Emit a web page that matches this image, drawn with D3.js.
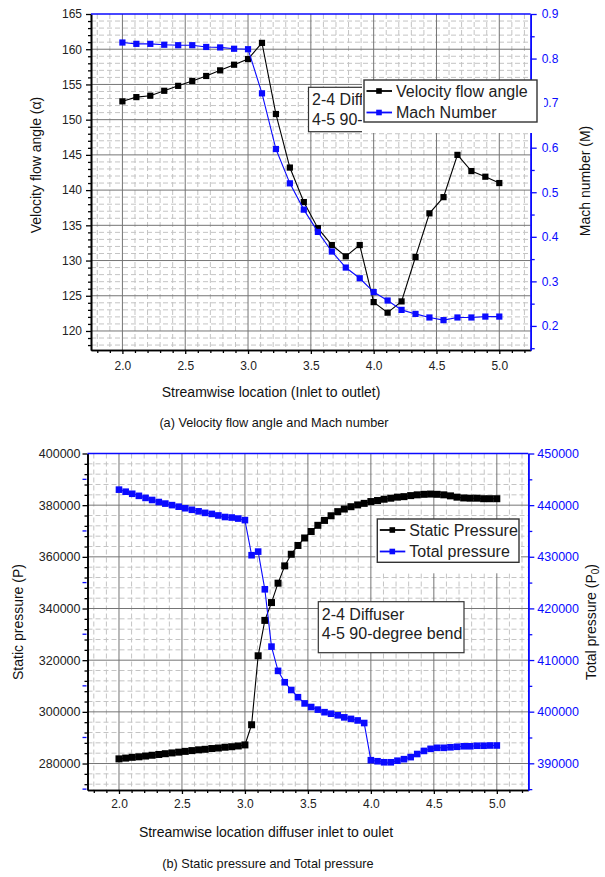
<!DOCTYPE html>
<html>
<head>
<meta charset="utf-8">
<script src="https://cdn.jsdelivr.net/npm/d3@7"></script>
<style>
  body { margin: 0; background: #fff; }
  svg { font-family: "Liberation Sans", Arial, sans-serif; }
</style>
</head>
<body>
<svg id="chart" width="605" height="877"></svg>
<script>
// ---------- data: panel (a) ----------
const xA = [2.0, 2.111, 2.222, 2.333, 2.444, 2.556, 2.667, 2.778, 2.889, 3.0,
  3.111, 3.222, 3.333, 3.444, 3.556, 3.667, 3.778, 3.889, 4.0,
  4.111, 4.222, 4.333, 4.444, 4.556, 4.667, 4.778, 4.889, 5.0];
const flowAngle = [152.6, 153.2, 153.4, 154.1, 154.8, 155.5, 156.2, 157.0, 157.8, 158.6,
  160.9, 150.8, 143.2, 138.3, 134.6, 132.2, 130.6, 132.2, 124.1,
  122.6, 124.2, 130.5, 136.7, 139.0, 145.0, 142.7, 141.9, 141.0];
const machNumber = [0.836, 0.833, 0.833, 0.831, 0.830, 0.830, 0.826, 0.825, 0.822, 0.821,
  0.722, 0.597, 0.520, 0.461, 0.411, 0.367, 0.331, 0.307, 0.276,
  0.257, 0.236, 0.227, 0.219, 0.213, 0.219, 0.219, 0.221, 0.221];

// ---------- data: panel (b) ----------
const xB = [2.000, 2.053, 2.105, 2.158, 2.211, 2.263, 2.316, 2.368, 2.421, 2.474,
  2.526, 2.579, 2.632, 2.684, 2.737, 2.789, 2.842, 2.895, 2.947, 3.000,
  3.053, 3.105, 3.158, 3.211, 3.263, 3.316, 3.368, 3.421, 3.474, 3.526,
  3.579, 3.632, 3.684, 3.737, 3.789, 3.842, 3.895, 3.947, 4.000,
  4.053, 4.105, 4.158, 4.211, 4.263, 4.316, 4.368, 4.421, 4.474, 4.526,
  4.579, 4.632, 4.684, 4.737, 4.789, 4.842, 4.895, 4.947, 5.000];
const staticPressure = [281800, 282100, 282400, 282600, 282900, 283200, 283500, 283800, 284100, 284400,
  284700, 285000, 285300, 285500, 285800, 286000, 286300, 286500, 286800, 287200,
  295000, 321700, 335400, 342300, 349800, 356500, 361000, 364400, 367300, 369800,
  372200, 374100, 375900, 377500, 378500, 379400, 380100, 380700, 381400,
  381800, 382300, 382700, 383100, 383300, 383700, 384000, 384200, 384300, 384200,
  384000, 383600, 383100, 382800, 382700, 382700, 382500, 382500, 382500];
const totalPressure = [443000, 442600, 442200, 441800, 441400, 441000, 440600, 440300, 440000, 439700,
  439400, 439100, 438800, 438500, 438300, 438000, 437700, 437600, 437400, 437100,
  430300, 431000, 423700, 412600, 407900, 405700, 404200, 402800, 401600, 400900,
  400400, 399900, 399600, 399300, 398900, 398600, 398300, 397800, 390600,
  390400, 390200, 390200, 390500, 390800, 391200, 391800, 392400, 392800, 393000,
  393000, 393100, 393200, 393300, 393300, 393400, 393400, 393450, 393450];

// ---------- ticks ----------
const xTicks = [2.0, 2.5, 3.0, 3.5, 4.0, 4.5, 5.0];
const angleTicks = [120, 125, 130, 135, 140, 145, 150, 155, 160, 165];
const machTicks = [0.2, 0.3, 0.4, 0.5, 0.6, 0.7, 0.8, 0.9];
const staticTicks = [280000, 300000, 320000, 340000, 360000, 380000, 400000];
const totalTicks = [390000, 400000, 410000, 420000, 430000, 440000, 450000];

const BLUE = '#0a0aff';
const svg = d3.select('#chart');
const defs = svg.append('defs');

function styleAxis(a, color, fs) {
  a.attr('font-family', null).attr('font-size', fs);
  a.select('.domain').attr('stroke', color).attr('stroke-width', 1.6);
  a.selectAll('.tick line').attr('stroke', color).attr('stroke-width', 1.3);
  a.selectAll('.tick text').attr('fill', color === BLUE ? BLUE : '#222');
  return a;
}

function drawPanel(c) {
  const x = d3.scaleLinear().domain([1.75, 5.25]).range([c.left, c.right]);
  const yL = d3.scaleLinear().domain(c.yLDomain).range([c.bottom, c.top]);
  const yR = d3.scaleLinear().domain(c.yRDomain).range([c.bottom, c.top]);
  const g = svg.append('g');

  const xMinor = d3.range(1.8, 5.25, 0.1).filter(v => !xTicks.some(t => Math.abs(t - v) < 1e-6));
  const yMinor = d3.range(c.yLMinorStart, c.yLDomain[1], c.yLMinorStep)
    .filter(v => !c.yLTicks.some(t => Math.abs(t - v) < 1e-6) && yL(v) > c.top && yL(v) < c.bottom);

  // minor dashed grid
  g.append('g').selectAll('line').data(xMinor).join('line')
    .attr('x1', d => x(d)).attr('x2', d => x(d)).attr('y1', c.top).attr('y2', c.bottom)
    .attr('stroke', '#c4c4c4').attr('stroke-dasharray', '5,3');
  g.append('g').selectAll('line').data(yMinor).join('line')
    .attr('y1', d => yL(d)).attr('y2', d => yL(d)).attr('x1', c.left).attr('x2', c.right)
    .attr('stroke', '#c4c4c4').attr('stroke-dasharray', '5,3');

  // major grid
  g.append('g').selectAll('line').data(xTicks).join('line')
    .attr('x1', d => x(d)).attr('x2', d => x(d)).attr('y1', c.top).attr('y2', c.bottom)
    .attr('stroke', '#757575').attr('stroke-width', 1);
  g.append('g').selectAll('line').data(c.yLTicks.filter(v => yL(v) > c.top + 1)).join('line')
    .attr('y1', d => yL(d)).attr('y2', d => yL(d)).attr('x1', c.left).attr('x2', c.right)
    .attr('stroke', '#757575').attr('stroke-width', 1);

  // series
  c.series.forEach(s => {
    const y = s.axis === 'L' ? yL : yR;
    const pts = c.xs.map((xv, i) => [x(xv), y(s.values[i])]);
    g.append('path').attr('d', d3.line()(pts))
      .attr('fill', 'none').attr('stroke', s.color).attr('stroke-width', 1.1);
    g.append('g').selectAll('rect').data(pts).join('rect')
      .attr('x', d => d[0] - s.size / 2).attr('y', d => d[1] - s.size / 2)
      .attr('width', s.size).attr('height', s.size).attr('fill', s.color);
  });

  // axes
  styleAxis(g.append('g').attr('transform', `translate(0,${c.bottom})`)
    .call(d3.axisBottom(x).tickValues(xMinor).tickSize(3).tickFormat('').tickSizeOuter(0)), '#000', 12);
  styleAxis(g.append('g').attr('transform', `translate(0,${c.bottom})`)
    .call(d3.axisBottom(x).tickValues(xTicks).tickSize(4).tickPadding(c.xPad).tickFormat(d3.format('.1f')).tickSizeOuter(0)), '#000', 12);

  styleAxis(g.append('g').attr('transform', `translate(${c.left},0)`)
    .call(d3.axisLeft(yL).tickValues(yMinor).tickSize(3).tickFormat('').tickSizeOuter(0)), '#000', 12);
  styleAxis(g.append('g').attr('transform', `translate(${c.left},0)`)
    .call(d3.axisLeft(yL).tickValues(c.yLTicks).tickSize(5).tickPadding(c.lPad).tickFormat(d3.format('d')).tickSizeOuter(0)), '#000', c.tickFs);

  const yRMinor = c.yRTicks.slice(0, -1).map((v, i) => (v + c.yRTicks[i + 1]) / 2)
    .concat(c.yRExtraMinor);
  if (c.leftBlueTicks) {
    g.append('g').selectAll('line').data(yRMinor.filter(v => yR(v) < c.bottom)).join('line')
      .attr('x1', c.left - 5).attr('x2', c.left - 1).attr('y1', d => yR(d)).attr('y2', d => yR(d))
      .attr('stroke', BLUE).attr('stroke-width', 1.3);
  }
  styleAxis(g.append('g').attr('transform', `translate(${c.right},0)`)
    .call(d3.axisRight(yR).tickValues(yRMinor).tickSize(4).tickFormat('').tickSizeOuter(0)), BLUE, 12);
  styleAxis(g.append('g').attr('transform', `translate(${c.right},0)`)
    .call(d3.axisRight(yR).tickValues(c.yRTicks).tickSize(6).tickPadding(c.rPad).tickFormat(c.yRFormat).tickSizeOuter(0)), BLUE, c.tickFs);

  g.append('line').attr('x1', c.left).attr('x2', c.right).attr('y1', c.top).attr('y2', c.top)
    .attr('stroke', BLUE).attr('stroke-width', 1.6);

  // axis titles
  g.append('text').attr('x', c.xTitle[0]).attr('y', c.xTitle[1]).attr('text-anchor', 'middle')
    .attr('font-size', 14).attr('fill', '#111').text(c.xTitleText);
  g.append('text').attr('x', c.caption[0]).attr('y', c.caption[1]).attr('text-anchor', 'middle')
    .attr('font-size', 12.7).attr('fill', '#111').text(c.captionText);
  g.append('text').attr('transform', `translate(${c.yLTitle[0]},${c.yLTitle[1]}) rotate(-90)`)
    .attr('text-anchor', 'middle').attr('font-size', 14).attr('fill', '#111').text(c.yLTitleText);
  const rt = g.append('text').attr('transform', `translate(${c.yRTitle[0]},${c.yRTitle[1]}) rotate(-90)`)
    .attr('text-anchor', 'middle').attr('font-size', 14).attr('fill', '#111');
  c.yRTitleParts.forEach(p => {
    const ts = rt.append('tspan').text(p.t);
    if (p.sub) ts.attr('font-size', 10).attr('dy', 3);
    if (p.after) ts.attr('dy', -3);
  });

  // annotation box (partly hidden behind the legend, as in the original)
  const b = c.note;
  const L = c.legend;
  const clipId = 'clip-' + c.id;
  defs.append('clipPath').attr('id', clipId).append('rect')
    .attr('x', b.x - 2).attr('y', b.y - 2).attr('height', b.h + 4)
    .attr('width', Math.min(b.w + 4, L.x - 2 - (b.x - 2)));
  const nb = g.append('g').attr('clip-path', c.noteClipped ? `url(#${clipId})` : null);
  nb.append('rect').attr('x', b.x).attr('y', b.y).attr('width', b.w).attr('height', b.h)
    .attr('fill', '#fff').attr('stroke', '#333').attr('stroke-width', 1.2);
  b.lines.forEach((t, i) => {
    nb.append('text').attr('x', b.x + 3.5).attr('y', b.y + 18 + i * 19.5)
      .attr('font-size', 16).attr('fill', '#222').text(t);
  });

  // legend
  g.append('rect').attr('x', L.x - 2).attr('y', L.y).attr('width', L.w + L.padRight).attr('height', L.h + 11)
    .attr('fill', '#fff');
  g.append('rect').attr('x', L.x).attr('y', L.y).attr('width', L.w).attr('height', L.h)
    .attr('fill', '#fff').attr('stroke', '#333').attr('stroke-width', 1.4);
  c.series.forEach((s, i) => {
    const yy = L.y + 11 + i * 21.5;
    g.append('line').attr('x1', L.x + 2.5).attr('x2', L.x + 28).attr('y1', yy).attr('y2', yy)
      .attr('stroke', s.color).attr('stroke-width', 1.8);
    g.append('rect').attr('x', L.x + 15 - 2.8).attr('y', yy - 2.8).attr('width', 5.6).attr('height', 5.6)
      .attr('fill', s.color);
    g.append('text').attr('x', L.x + 32).attr('y', yy + 5.5).attr('font-size', 16).attr('fill', '#222')
      .text(s.name);
  });
}

drawPanel({
  id: 'a',
  left: 91, right: 530.7, top: 14, bottom: 350,
  xs: xA,
  yLDomain: [117.3, 165], yRDomain: [0.146, 0.9],
  yLTicks: angleTicks, yLMinorStart: 118, yLMinorStep: 1,
  yRTicks: machTicks, yRExtraMinor: [0.15], yRFormat: d3.format('.1f'),
  tickFs: 12, lPad: 4, rPad: 5, xPad: 7, leftBlueTicks: false,
  series: [
    { name: 'Velocity flow angle', values: flowAngle, axis: 'L', color: '#000', size: 6.2 },
    { name: 'Mach Number', values: machNumber, axis: 'R', color: BLUE, size: 6.2 }
  ],
  xTitleText: 'Streamwise location (Inlet to outlet)', xTitle: [271, 397],
  captionText: '(a) Velocity flow angle and Mach number', caption: [274, 427],
  yLTitleText: 'Velocity flow angle (\u03b1)', yLTitle: [41, 165],
  yRTitleParts: [{ t: 'Mach number (M)' }], yRTitle: [590, 181],
  note: { x: 308.5, y: 87.3, w: 110, h: 44.4, lines: ['2-4 Diffuser', '4-5 90-degree bend'] },
  noteClipped: true,
  legend: { x: 364, y: 80, w: 173, h: 42, padRight: 9 }
});

drawPanel({
  id: 'b',
  left: 87.5, right: 528.3, top: 453.5, bottom: 790,
  xs: xB,
  yLDomain: [269750, 400000], yRDomain: [384830, 450000],
  yLTicks: staticTicks, yLMinorStart: 272000, yLMinorStep: 4000,
  yRTicks: totalTicks, yRExtraMinor: [385000], yRFormat: d3.format('d'),
  tickFs: 12.5, lPad: 2, rPad: 3, xPad: 5.5, leftBlueTicks: true,
  series: [
    { name: 'Static Pressure', values: staticPressure, axis: 'L', color: '#000', size: 7 },
    { name: 'Total pressure', values: totalPressure, axis: 'R', color: BLUE, size: 6.6 }
  ],
  xTitleText: 'Streamwise location diffuser inlet to oulet', xTitle: [266, 837],
  captionText: '(b) Static pressure and Total pressure', caption: [268, 868],
  yLTitleText: 'Static pressure (P)', yLTitle: [23, 622],
  yRTitleParts: [{ t: 'Total pressure (P' }, { t: '0', sub: true }, { t: ')', after: true }], yRTitle: [596, 622],
  note: { x: 318.3, y: 601.7, w: 145.7, h: 51, lines: ['2-4 Diffuser', '4-5 90-degree bend'] },
  noteClipped: false,
  legend: { x: 377.3, y: 519, w: 141.7, h: 43.3, padRight: 4 }
});
</script>
</body>
</html>
